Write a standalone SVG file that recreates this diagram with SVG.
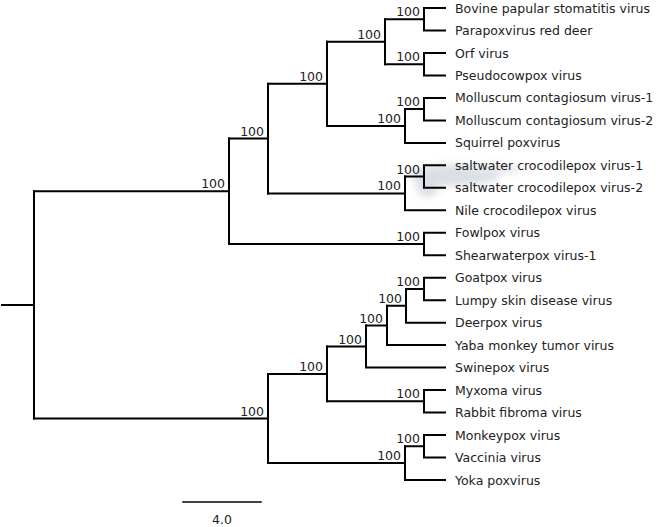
<svg xmlns="http://www.w3.org/2000/svg" width="660" height="527" viewBox="0 0 660 527">
<style>
.br{fill:none;stroke:#000;stroke-width:2;stroke-linecap:square}
.lf{font-family:"DejaVu Sans",Verdana,sans-serif;font-size:12.5px;fill:#222}
.bs{font-family:"DejaVu Sans",Verdana,sans-serif;font-size:12.5px;fill:#222;text-anchor:end}
.sc{font-family:"DejaVu Sans",Verdana,sans-serif;font-size:12.5px;fill:#222;text-anchor:middle}
</style>
<defs>
<filter id="blur" x="-50%" y="-50%" width="200%" height="200%"><feGaussianBlur stdDeviation="3.5"/></filter>
</defs>
<rect width="660" height="527" fill="#fff"/>
<g id="smudge" filter="url(#blur)" opacity="0.5">
<ellipse cx="455" cy="175" rx="45" ry="11" fill="#b8c0cc"/>
<ellipse cx="428" cy="184" rx="12" ry="13" fill="#b8c0cc"/>
<ellipse cx="495" cy="169" rx="28" ry="5" fill="#ccd2da"/>
</g>
<g id="connectors">
<path class="br" d="M2,305H34M34,191.3V418.5"/>
<path class="br" d="M34,191.3H229M229,138.6V244"/>
<path class="br" d="M229,138.6H268M268,83.8V193.4"/>
<path class="br" d="M268,83.8H327M327,41.7V126"/>
<path class="br" d="M327,41.7H385M385,19.2V64.2"/>
<path class="br" d="M385,19.2H424M424,8V30.5M424,8H445M424,30.5H445"/>
<path class="br" d="M385,64.2H424M424,53V75.4M424,53H445M424,75.4H445"/>
<path class="br" d="M327,126H405M405,109.1V142.9M405,142.9H445"/>
<path class="br" d="M405,109.1H424M424,97.9V120.4M424,97.9H445M424,120.4H445"/>
<path class="br" d="M268,193.4H405M405,176.6V210.3M405,210.3H445"/>
<path class="br" d="M405,176.6H424M424,165.3V187.8M424,165.3H445M424,187.8H445"/>
<path class="br" d="M229,244H424M424,232.8V255.2M424,232.8H445M424,255.2H445"/>
<path class="br" d="M34,418.5H268M268,373.9V463.1"/>
<path class="br" d="M268,373.9H327M327,346.5V401.3"/>
<path class="br" d="M327,346.5H366M366,325.5V367.6M366,367.6H445"/>
<path class="br" d="M366,325.5H387M387,305.8V345.1M387,345.1H445"/>
<path class="br" d="M387,305.8H406M406,289V322.7M406,322.7H445"/>
<path class="br" d="M406,289H424M424,277.7V300.2M424,277.7H445M424,300.2H445"/>
<path class="br" d="M327,401.3H424M424,390.1V412.6M424,390.1H445M424,412.6H445"/>
<path class="br" d="M268,463.1H405M405,446.3V480M405,480H445"/>
<path class="br" d="M405,446.3H424M424,435V457.5M424,435H445M424,457.5H445"/>
<path class="br" d="M183,502H261" style="stroke-width:1.5"/>
</g>
<g id="bootstrap">
<text class="bs" x="225" y="188.3">100</text>
<text class="bs" x="264" y="135.6">100</text>
<text class="bs" x="323" y="80.8">100</text>
<text class="bs" x="381" y="38.7">100</text>
<text class="bs" x="420" y="16.2">100</text>
<text class="bs" x="420" y="61.2">100</text>
<text class="bs" x="401" y="123">100</text>
<text class="bs" x="420" y="106.1">100</text>
<text class="bs" x="401" y="190.4">100</text>
<text class="bs" x="420" y="173.6">100</text>
<text class="bs" x="420" y="241">100</text>
<text class="bs" x="264" y="415.5">100</text>
<text class="bs" x="323" y="370.9">100</text>
<text class="bs" x="362" y="343.5">100</text>
<text class="bs" x="383" y="322.5">100</text>
<text class="bs" x="402" y="302.8">100</text>
<text class="bs" x="420" y="286">100</text>
<text class="bs" x="420" y="398.3">100</text>
<text class="bs" x="401" y="460.1">100</text>
<text class="bs" x="420" y="443.3">100</text>
</g>
<g id="leaves">
<text class="lf" x="455" y="12.5">Bovine papular stomatitis virus</text>
<text class="lf" x="455" y="35">Parapoxvirus red deer</text>
<text class="lf" x="455" y="57.5">Orf virus</text>
<text class="lf" x="455" y="79.9">Pseudocowpox virus</text>
<text class="lf" x="455" y="102.4">Molluscum contagiosum virus-1</text>
<text class="lf" x="455" y="124.9">Molluscum contagiosum virus-2</text>
<text class="lf" x="455" y="147.4">Squirrel poxvirus</text>
<text class="lf" x="455" y="169.8">saltwater crocodilepox virus-1</text>
<text class="lf" x="455" y="192.3">saltwater crocodilepox virus-2</text>
<text class="lf" x="455" y="214.8">Nile crocodilepox virus</text>
<text class="lf" x="455" y="237.3">Fowlpox virus</text>
<text class="lf" x="455" y="259.7">Shearwaterpox virus-1</text>
<text class="lf" x="455" y="282.2">Goatpox virus</text>
<text class="lf" x="455" y="304.7">Lumpy skin disease virus</text>
<text class="lf" x="455" y="327.2">Deerpox virus</text>
<text class="lf" x="455" y="349.6">Yaba monkey tumor virus</text>
<text class="lf" x="455" y="372.1">Swinepox virus</text>
<text class="lf" x="455" y="394.6">Myxoma virus</text>
<text class="lf" x="455" y="417.1">Rabbit fibroma virus</text>
<text class="lf" x="455" y="439.5">Monkeypox virus</text>
<text class="lf" x="455" y="462">Vaccinia virus</text>
<text class="lf" x="455" y="484.5">Yoka poxvirus</text>
</g>
<g id="scale">
<text class="sc" x="222" y="523.5">4.0</text>
</g>
</svg>
